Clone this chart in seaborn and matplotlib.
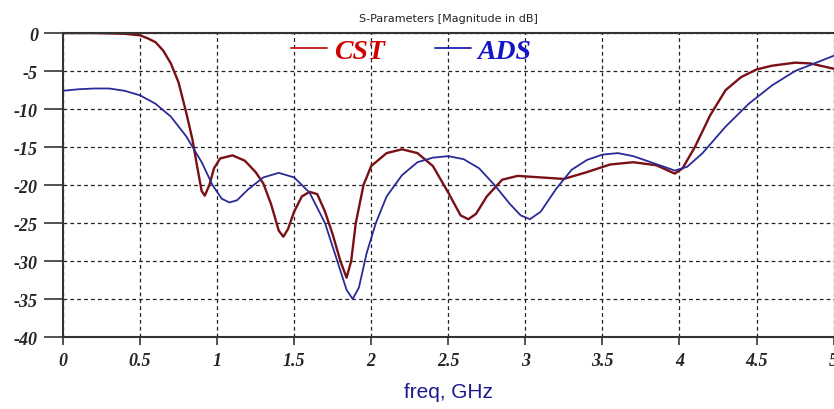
import matplotlib
matplotlib.use("Agg")
import matplotlib.pyplot as plt
import seaborn as sns
import pandas as pd

# ---- data ----
cst_freq = [0.0, 0.2, 0.4, 0.5, 0.55, 0.6, 0.65, 0.7, 0.75, 0.8, 0.84, 0.87, 0.9, 0.92,
            0.95, 0.98, 1.02, 1.1, 1.18, 1.25, 1.3, 1.35, 1.4, 1.43, 1.46, 1.5, 1.55,
            1.6, 1.65, 1.7, 1.75, 1.8, 1.84, 1.87, 1.9, 1.95, 2.0, 2.1, 2.2, 2.3, 2.4,
            2.5, 2.58, 2.63, 2.68, 2.75, 2.85, 2.95, 3.1, 3.25, 3.4, 3.55, 3.7, 3.85,
            3.97, 4.02, 4.1, 4.2, 4.3, 4.4, 4.5, 4.6, 4.75, 4.85, 5.0]
cst_db = [0.0, 0.0, -0.1, -0.3, -0.7, -1.2, -2.3, -4.0, -6.5, -10.5, -14.0, -17.5, -20.8,
          -21.4, -20.0, -17.8, -16.5, -16.1, -16.8, -18.3, -19.8, -22.5, -26.0, -26.8,
          -25.8, -23.5, -21.5, -20.9, -21.2, -23.5, -26.5, -30.0, -32.2, -30.0, -25.0,
          -20.0, -17.5, -15.8, -15.3, -15.8, -17.5, -21.0, -24.0, -24.5, -23.8, -21.5,
          -19.3, -18.8, -19.0, -19.2, -18.3, -17.3, -17.0, -17.4, -18.5, -17.8, -15.0,
          -10.8, -7.5, -5.8, -4.8, -4.3, -3.9, -4.0, -4.7]

ads_freq = [0.0, 0.1, 0.2, 0.3, 0.4, 0.5, 0.6, 0.7, 0.8, 0.9, 0.97, 1.03, 1.08, 1.13,
            1.2, 1.3, 1.4, 1.5, 1.6, 1.7, 1.78, 1.84, 1.88, 1.92, 1.97, 2.03, 2.1, 2.2,
            2.3, 2.4, 2.5, 2.6, 2.7, 2.8, 2.9, 2.97, 3.03, 3.1, 3.2, 3.3, 3.4, 3.5, 3.6,
            3.7, 3.8, 3.9, 3.97, 4.05, 4.15, 4.3, 4.45, 4.6, 4.75, 4.9, 5.0]
ads_db = [-7.6, -7.4, -7.3, -7.3, -7.6, -8.2, -9.3, -11.0, -13.6, -17.0, -20.0, -21.8,
          -22.3, -22.0, -20.6, -19.0, -18.4, -19.0, -21.0, -25.0, -30.0, -33.8, -35.0,
          -33.5, -29.0, -25.0, -21.5, -18.7, -17.0, -16.4, -16.2, -16.6, -17.8, -20.0,
          -22.5, -24.0, -24.5, -23.5, -20.5, -18.0, -16.7, -16.0, -15.8, -16.2, -16.9,
          -17.6, -18.1, -17.6, -15.8, -12.3, -9.3, -6.9, -5.0, -3.8, -3.0]

x_ticks = [0, 0.5, 1, 1.5, 2, 2.5, 3, 3.5, 4, 4.5, 5]
x_tick_labels = ["0", "0.5", "1", "1.5", "2", "2.5", "3", "3.5", "4", "4.5", "5"]
y_ticks = [0, -5, -10, -15, -20, -25, -30, -35, -40]
y_tick_labels = ["0", "-5", "-10", "-15", "-20", "-25", "-30", "-35", "-40"]
series_names = ["CST", "ADS"]

df = pd.concat([
    pd.DataFrame({"freq": cst_freq, "dB": cst_db, "src": series_names[0]}),
    pd.DataFrame({"freq": ads_freq, "dB": ads_db, "src": series_names[1]}),
])

sns.set_style("white")
plt.rcParams["font.family"] = ["DejaVu Sans"]

fig = plt.figure(figsize=(8.34, 4.10), dpi=100)
ax = fig.add_axes([0.0755, 0.1756, 0.9240, 0.7414])

palette = {"CST": "#7a1014", "ADS": "#2a2a98"}
sns.lineplot(data=df, x="freq", y="dB", hue="src", palette=palette, ax=ax,
             estimator=None, sort=False, legend=False)
for line, lw in zip(ax.get_lines(), [1.7, 1.3]):
    line.set_linewidth(lw)

ax.set_xlim(0, 5)
ax.set_ylim(-40, 0)
ax.set_xticks(x_ticks)
ax.set_yticks(y_ticks)
tick_font = dict(family="Liberation Serif", weight="bold", style="italic", size=13)
ax.set_xticklabels(x_tick_labels, fontdict=tick_font)
ax.set_yticklabels(y_tick_labels, fontdict=tick_font)
ax.tick_params(axis="y", direction="out", length=14, width=1.2, color="#333333", pad=4, left=True)
ax.tick_params(axis="x", direction="out", length=6, width=1.2, color="#333333", pad=5, bottom=True)

ax.grid(True, color="#222222", linestyle=(0, (3, 2.5)), linewidth=0.9)
for side in ["top", "bottom", "left"]:
    ax.spines[side].set_visible(True)
    ax.spines[side].set_color("#333333")
    ax.spines[side].set_linewidth(1.5)
ax.spines["right"].set_visible(False)

ax.set_title("S-Parameters [Magnitude in dB]", fontsize=8, color="#222222", pad=9)
ax.set_xlabel("freq, GHz", fontsize=15, color="#1a1a8c", labelpad=9,
              family="Liberation Sans")
ax.set_ylabel("")

handles = [plt.Line2D([], [], color="#c01818", lw=1.3),
           plt.Line2D([], [], color="#2020b0", lw=1.3)]
leg = ax.legend(handles, series_names, loc="center", bbox_to_anchor=(0.452, 0.941),
                ncol=2, frameon=False, handlelength=1.3, handletextpad=0.25,
                columnspacing=1.8, labelcolor=["#d00000", "#1515c8"],
                prop=dict(family="Liberation Serif", weight="bold", style="italic", size=20))

fig.savefig("out.png", dpi=100)
